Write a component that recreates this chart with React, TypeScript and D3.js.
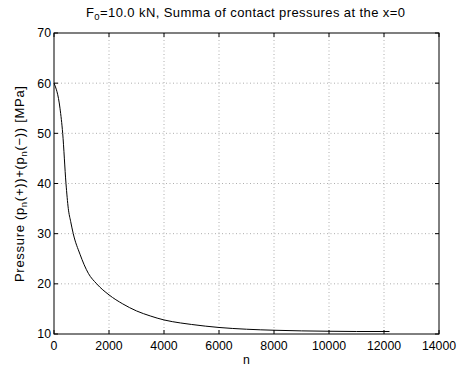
import React from "react";
import * as d3 from "d3";

const nValues = [0, 218, 316, 436, 520, 607, 700, 945, 1248, 1552, 2000, 2500, 3000, 3500, 4000, 4600, 5000, 6000, 7000, 8000, 9000, 10000, 11000, 12200];
const pressureValues = [60, 55, 50, 40, 35, 32.4, 30, 25.9, 22.1, 20, 17.8, 16, 14.6, 13.6, 12.8, 12.2, 11.9, 11.3, 10.95, 10.75, 10.62, 10.55, 10.5, 10.5];
const xTicks = [0, 2000, 4000, 6000, 8000, 10000, 12000, 14000];
const yTicks = [10, 20, 30, 40, 50, 60, 70];

const W = 459, H = 368;
const L = 54, R = 439, T = 33, B = 334;
const FONT = "'Liberation Sans', Arial, Helvetica, sans-serif";
const FS = 12.3;
const LFS = 13;
const SUB = 9.5;

export default function App() {
  const x = d3.scaleLinear().domain([0, 14000]).range([L, R]);
  const y = d3.scaleLinear().domain([10, 70]).range([B, T]);
  const data = nValues.map((n, i) => [n, pressureValues[i]] as [number, number]);
  const line = d3.line<[number, number]>().x(d => x(d[0])).y(d => y(d[1])).curve(d3.curveMonotoneX);
  const tl = 4;
  return (
    <svg width={W} height={H} style={{ position: "absolute", left: 0, top: 0, background: "#fff" }} fontFamily={FONT}>
      <rect x={0} y={0} width={W} height={H} fill="#fff" />
      {xTicks.slice(1, -1).map(t => (
        <line key={"gx" + t} x1={x(t)} x2={x(t)} y1={T} y2={B} stroke="#999" strokeWidth={0.8} strokeDasharray="1,2.5" />
      ))}
      {yTicks.slice(1, -1).map(t => (
        <line key={"gy" + t} x1={L} x2={R} y1={y(t)} y2={y(t)} stroke="#999" strokeWidth={0.8} strokeDasharray="1,2.5" />
      ))}
      {xTicks.map(t => (
        <g key={"tx" + t}>
          <line x1={x(t)} x2={x(t)} y1={B} y2={B - tl} stroke="#000" />
          <line x1={x(t)} x2={x(t)} y1={T} y2={T + tl} stroke="#000" />
          <text x={x(t)} y={349.5} fontSize={FS} textAnchor="middle" fill="#000">{t}</text>
        </g>
      ))}
      {yTicks.map(t => (
        <g key={"ty" + t}>
          <line x1={L} x2={L + tl} y1={y(t)} y2={y(t)} stroke="#000" />
          <line x1={R} x2={R - tl} y1={y(t)} y2={y(t)} stroke="#000" />
          <text x={51} y={y(t)} dy="0.36em" fontSize={FS} textAnchor="end" fill="#000">{t}</text>
        </g>
      ))}
      <path d={line(data) || ""} fill="none" stroke="#000" strokeWidth={1} />
      <rect x={L} y={T} width={R - L} height={B - T} fill="none" stroke="#000" strokeWidth={1} />
      <text x={86} y={16.7} fontSize={LFS} textLength={319} lengthAdjust="spacing" fill="#000">
        F<tspan fontSize={SUB} dy={3.5}>0</tspan><tspan dy={-3.5}>=10.0 kN, Summa of contact pressures at the x=0</tspan>
      </text>
      <text x={(L + R) / 2} y={364} fontSize={FS} textAnchor="middle" fill="#000">n</text>
      <text transform={`translate(23.5,282) rotate(-90)`} fontSize={LFS} textLength={196} lengthAdjust="spacing" fill="#000">
        Pressure (p<tspan fontSize={SUB} dy={3.5}>n</tspan><tspan dy={-3.5}>(+))+(p</tspan><tspan fontSize={SUB} dy={3.5}>n</tspan><tspan dy={-3.5}>(−)) [MPa]</tspan>
      </text>
    </svg>
  );
}
